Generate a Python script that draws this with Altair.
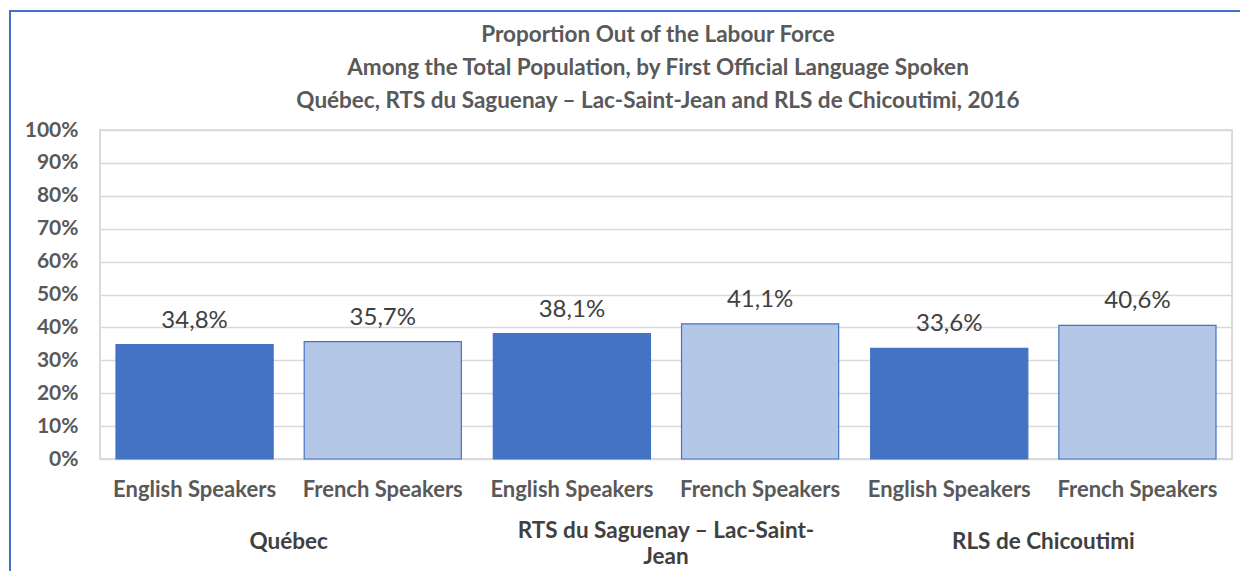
import altair as alt
import pandas as pd

regions = ["Québec", "Québec", "RTS du Saguenay – Lac-Saint-Jean", "RTS du Saguenay – Lac-Saint-Jean",
           "RLS de Chicoutimi", "RLS de Chicoutimi"]
languages = ["English Speakers", "French Speakers"] * 3
values = [0.348, 0.357, 0.381, 0.411, 0.336, 0.406]
region_order = ["Québec", "RTS du Saguenay – Lac-Saint-Jean", "RLS de Chicoutimi"]
lang_order = ["English Speakers", "French Speakers"]
y_ticks = [0, 0.1, 0.2, 0.3, 0.4, 0.5, 0.6, 0.7, 0.8, 0.9, 1.0]
title_lines = ["Proportion Out of the Labour Force",
               "Among the Total Population, by First Official Language Spoken",
               "Québec, RTS du Saguenay – Lac-Saint-Jean and RLS de Chicoutimi, 2016"]

df = pd.DataFrame({"Region": regions, "Language": languages, "Value": values})

W, H = 1132, 329
FONT = "Lato"
LONG = "RTS du Saguenay – Lac-Saint-Jean"

region_label_expr = (
    f"datum.label == '{LONG}' ? ['RTS du Saguenay – Lac-Saint-', 'Jean'] : datum.label"
)

x_enc = alt.X("Region:N", sort=region_order,
              scale=alt.Scale(paddingInner=0, paddingOuter=0),
              axis=alt.Axis(title=None, ticks=False, tickSize=0, domain=False, labelAngle=0,
                            labelFont=FONT, labelFontSize=22.5, labelFontWeight="bold",
                            labelColor="#404040", labelPadding=71,
                            labelBaseline={"condition": {"test": f"datum.value == '{LONG}'",
                                                         "value": "middle"},
                                           "value": "top"},
                            labelLineHeight=26, labelLimit=500,
                            labelExpr=region_label_expr))
xo_enc = alt.XOffset("Language:N", sort=lang_order,
                     scale=alt.Scale(paddingInner=0.165, paddingOuter=0.085))
y_enc = alt.Y("Value:Q", scale=alt.Scale(domain=[0, 1], nice=False),
              axis=alt.Axis(title=None, values=y_ticks, format=".0%", ticks=False, domain=False,
                            labelFont=FONT, labelFontSize=21, labelFontWeight="bold",
                            labelColor="#595959", labelPadding=22,
                            gridColor="#d9d9d9", gridWidth=1.3))

base = alt.Chart(df)

bars = base.mark_bar(strokeWidth=1.2).encode(
    x=x_enc, xOffset=xo_enc, y=y_enc,
    color=alt.Color("Language:N", sort=lang_order,
                    scale=alt.Scale(domain=lang_order, range=["#4472C4", "#B4C7E7"]), legend=None),
    stroke=alt.Stroke("Language:N", sort=lang_order,
                      scale=alt.Scale(domain=lang_order, range=["#4472C4", "#4472C4"]), legend=None),
)

labels = base.transform_calculate(
    lab="replace(format(datum.Value, '.1%'), '.', ',')"
).mark_text(font=FONT, fontSize=24, color="#404040", baseline="bottom", dy=-12).encode(
    x=x_enc, xOffset=xo_enc, y=y_enc, text="lab:N")

lang_text = base.mark_text(font=FONT, fontSize=22, fontWeight="bold", color="#595959",
                           baseline="middle").encode(
    x=x_enc, xOffset=xo_enc, y=alt.value(H + 31), text="Language:N")

frame = base.mark_rect(fill=None, stroke="#4472C4", strokeWidth=1.5).encode(
    x=alt.value(-90), x2=alt.value(W + 60), y=alt.value(-119), y2=alt.value(H + 200))

chart = alt.layer(frame, bars, labels, lang_text).properties(
    width=W, height=H,
    autosize=alt.AutoSizeParams(type="none"),
    padding={"left": 92, "top": 122, "right": 8, "bottom": 112},
    title=alt.TitleParams(text=title_lines, font=FONT, fontSize=22.5, fontWeight="bold",
                          color="#595959", lineHeight=33, anchor="middle", dx=-8,
                          offset=0, dy=102),
).configure_view(stroke="#d0d0d0", strokeWidth=1.5)

chart.save("out.html", embed_options={"renderer": "svg", "actions": False})
